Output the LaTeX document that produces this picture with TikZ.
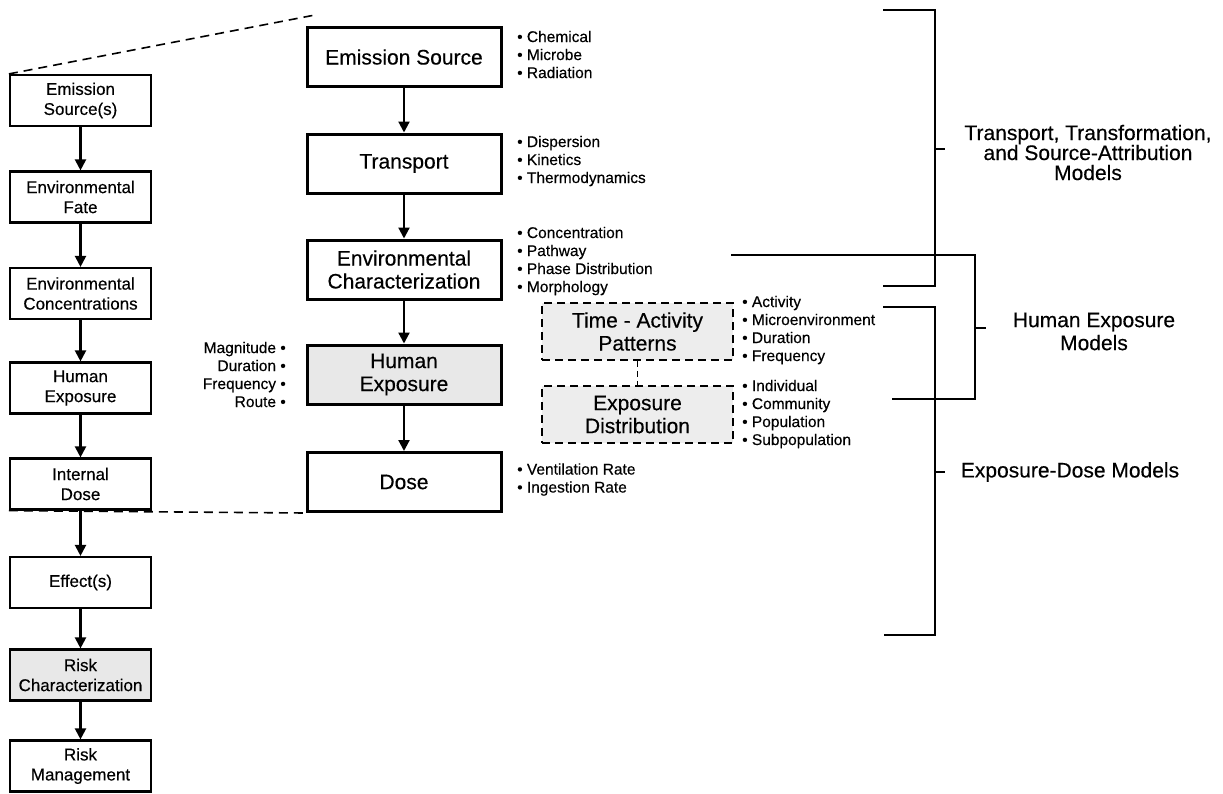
\documentclass[tikz,border=0pt]{standalone}
\usepackage{fontspec}
\setmainfont{Liberation Sans}[FakeBold=0.35]
\usetikzlibrary{arrows.meta}

\begin{document}
\begin{tikzpicture}[x=1pt,y=-1pt,
  leftbox/.style={draw, line width=2.2pt, minimum width=141pt, minimum height=51pt,
    inner sep=0pt, align=center, font=\fontsize{17}{20}\selectfont},
  midbox/.style={draw, line width=3pt, minimum width=194pt, minimum height=59pt,
    inner sep=0pt, align=center, font=\fontsize{21}{23}\selectfont},
  dashbox/.style={draw, line width=1.6pt, dash pattern=on 8pt off 5pt,
    minimum width=191pt, minimum height=57pt, inner sep=0pt, align=center,
    font=\fontsize{21}{23}\selectfont, fill=gray!14},
  shaded/.style={fill=gray!18},
  flow/.style={line width=2.2pt, -{Triangle[width=11pt,length=11pt]}},
  zoomline/.style={line width=1.6pt, dash pattern=on 9pt off 6pt},
  linkline/.style={line width=1.3pt, dash pattern=on 6pt off 4pt},
  bullets/.style={inner sep=0pt, align=left, anchor=west, font=\fontsize{15.5}{18}\selectfont},
  lbullets/.style={inner sep=0pt, align=right, anchor=east, font=\fontsize{15.5}{18}\selectfont},
  bracket/.style={line width=1.5pt},
  modellabel/.style={inner sep=0pt, align=center}
]
\useasboundingbox (0,0) rectangle (1223,793);

% ---------- overall risk chain (left column) ----------
\node[leftbox] (LES)  at (80.5,100.5) {Emission\\Source(s)};
\node[leftbox] (LFate) at (80.5,197) {Environmental\\Fate};
\node[leftbox] (LConc) at (80.5,293.5) {Environmental\\Concentrations};
\node[leftbox] (LHE)  at (80.5,388) {Human\\Exposure};
\node[leftbox] (LID)  at (80.5,484) {Internal\\Dose};
\node[leftbox] (LEff) at (80.5,582.5) {Effect(s)};
\node[leftbox, shaded] (LRC) at (80.5,675) {Risk\\Characterization};
\node[leftbox] (LRM)  at (80.5,766) {Risk\\Management};

\draw[flow] (LES) -- (LFate);
\draw[flow] (LFate) -- (LConc);
\draw[flow] (LConc) -- (LHE);
\draw[flow] (LHE) -- (LID);
\draw[flow] (LID) -- (LEff);
\draw[flow] (LEff) -- (LRC);
\draw[flow] (LRC) -- (LRM);

% ---------- expanded source-to-dose chain (middle column) ----------
\node[midbox] (MES) at (404,57)    {Emission Source};
\node[midbox] (MT)  at (404,163.5) {Transport};
\node[midbox] (MEC) at (404,269.5) {Environmental\\Characterization};
\node[midbox, shaded] (MHE) at (404,374.5) {Human\\Exposure};
\node[midbox] (MD)  at (404,482)   {Dose};

\draw[flow] (MES) -- (MT);
\draw[flow] (MT) -- (MEC);
\draw[flow] (MEC) -- (MHE);
\draw[flow] (MHE) -- (MD);

% zoom guides from the left column to the expanded chain
\coordinate (zoomtop) at (315,15);
\draw[zoomline] (LES.north west) -- (zoomtop);
\draw[zoomline] (LID.south west) -- (MD.south west);

% ---------- exposure factors ----------
\node[dashbox] (TAP) at (637.5,331.5) {Time - Activity\\Patterns};
\node[dashbox] (ED)  at (637.5,414.5) {Exposure\\Distribution};
\draw[linkline] (TAP) -- (ED);

% ---------- bullet lists ----------
\node[bullets] (bES)  at (517,54.5)  {• Chemical\\• Microbe\\• Radiation};
\node[bullets] (bT)   at (517,161)   {• Dispersion\\• Kinetics\\• Thermodynamics};
\node[bullets] (bEC)  at (517,261)   {• Concentration\\• Pathway\\• Phase Distribution\\• Morphology};
\node[lbullets] (bHE) at (286,374.5) {Magnitude •\\Duration •\\Frequency •\\Route •};
\node[bullets] (bD)   at (517,479.5) {• Ventilation Rate\\• Ingestion Rate};
\node[bullets] (bTAP) at (742,330)   {• Activity\\• Microenvironment\\• Duration\\• Frequency};
\node[bullets] (bED)  at (742,414)   {• Individual\\• Community\\• Population\\• Subpopulation};

% ---------- model brackets ----------
\draw[bracket] (883,10) -- (935,10) -- (935,286) -- (883,286);
\draw[bracket] (935,149) -- (945,149);
\draw[bracket] (731,255) -- (975,255) -- (975,399) -- (892,399);
\draw[bracket] (975,328) -- (986,328);
\draw[bracket] (883,307) -- (935,307) -- (935,635) -- (884,635);
\draw[bracket] (935,472) -- (945,472);

\node[modellabel, font=\fontsize{21}{20}\selectfont] (mTT) at (1088,152.5)
  {Transport, Transformation,\\and Source-Attribution\\Models};
\node[modellabel, font=\fontsize{21}{23}\selectfont] (mHE) at (1094,331.5)
  {Human Exposure\\Models};
\node[modellabel, font=\fontsize{21}{23}\selectfont] (mED) at (1070,472)
  {Exposure-Dose Models};

\end{tikzpicture}
\end{document}
